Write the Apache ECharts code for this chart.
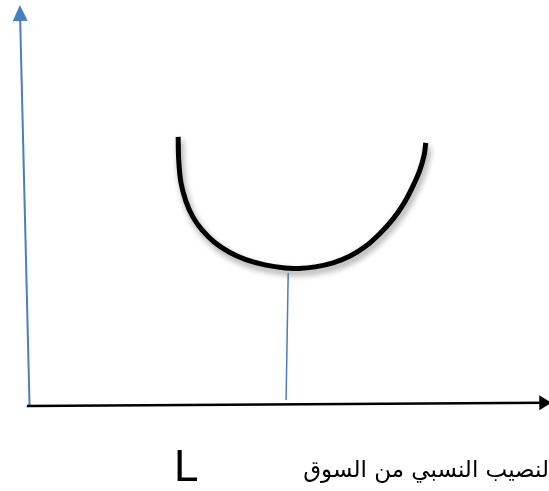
<!DOCTYPE html>
<html>
<head>
<meta charset="utf-8">
<script src="https://cdn.jsdelivr.net/npm/echarts@6/dist/echarts.min.js"></script>
<style>
  html, body { margin: 0; padding: 0; background: #ffffff; }
  #chart { width: 549px; height: 491px; }
</style>
</head>
<body>
<div id="chart"></div>
<script>
// U-shaped cost curve against relative market share (conceptual units 0..100)
const curveX = [29.9, 30.0, 30.4, 31.4, 32.7, 34.4, 36.7, 39.5, 42.7, 46.3, 50.1, 52.6,
                55.8, 59.2, 62.4, 65.4, 68.1, 70.5, 72.6, 74.3, 75.6, 76.4, 76.7];
const curveY = [67.1, 61.4, 55.9, 50.9, 47.1, 43.9, 40.9, 38.4, 36.5, 35.2, 34.4, 34.3,
                34.7, 35.7, 37.4, 39.9, 43.1, 46.6, 50.6, 54.9, 58.9, 62.6, 65.6];

// Vertical axis (drawn by hand, leaning slightly) and horizontal axis
const verticalAxisFrom = [1.8, 0.25];
const verticalAxisTo = [0, 98];
const horizontalAxisFrom = [1.3, 0];
const horizontalAxisTo = [99.3, 0.8];

// Drop line from the bottom of the curve to the horizontal axis
const dropFrom = [50.7, 33.2];
const dropTo = [50.3, 1.5];

const minLabel = 'L';
const axisTitle = 'لنصيب النسبي من السوق';

const curveData = curveX.map((x, i) => [x, curveY[i]]);

// Build one smooth path (Catmull-Rom through the points, as cubic Béziers)
function smoothPath(pts) {
  let d = 'M' + pts[0][0] + ',' + pts[0][1];
  for (let i = 0; i < pts.length - 1; i++) {
    const p0 = pts[i - 1] || pts[i];
    const p1 = pts[i];
    const p2 = pts[i + 1];
    const p3 = pts[i + 2] || p2;
    const c1x = p1[0] + (p2[0] - p0[0]) / 6;
    const c1y = p1[1] + (p2[1] - p0[1]) / 6;
    const c2x = p2[0] - (p3[0] - p1[0]) / 6;
    const c2y = p2[1] - (p3[1] - p1[1]) / 6;
    d += ' C' + c1x + ',' + c1y + ' ' + c2x + ',' + c2y + ' ' + p2[0] + ',' + p2[1];
  }
  return d;
}

const chart = echarts.init(document.getElementById('chart'), null, { renderer: 'canvas' });

chart.setOption({
  backgroundColor: '#ffffff',
  animation: false,
  grid: { left: 20, right: 0, top: 5, bottom: 85 },
  xAxis: { type: 'value', min: 0, max: 100, show: false },
  yAxis: { type: 'value', min: 0, max: 100, show: false },
  series: [
    {
      type: 'custom',
      coordinateSystem: 'cartesian2d',
      data: curveData,
      silent: true,
      z: 3,
      renderItem: function (params, api) {
        if (params.dataIndex !== 0) return null;
        const pts = curveData.map(function (p) { return api.coord(p); });
        return {
          type: 'path',
          shape: { pathData: smoothPath(pts) },
          style: {
            fill: null,
            stroke: '#000000',
            lineWidth: 5,
            lineCap: 'butt',
            lineJoin: 'round',
            shadowColor: 'rgba(0,0,0,0.4)',
            shadowBlur: 6,
            shadowOffsetX: 2,
            shadowOffsetY: 4
          }
        };
      }
    },
    {
      type: 'line',
      data: [],
      silent: true,
      markLine: {
        silent: true,
        animation: false,
        label: { show: false },
        emphasis: { disabled: true },
        data: [
          [
            { coord: verticalAxisFrom, symbol: 'none', lineStyle: { color: '#4a7ebf', width: 2, type: 'solid' } },
            { coord: verticalAxisTo, symbol: 'triangle', symbolSize: [15, 16] }
          ],
          [
            { coord: horizontalAxisFrom, symbol: 'none', lineStyle: { color: '#000000', width: 2.5, type: 'solid' } },
            { coord: horizontalAxisTo, symbol: 'triangle', symbolSize: [15, 12] }
          ],
          [
            { coord: dropFrom, symbol: 'none', lineStyle: { color: '#4a7ebf', width: 1.5, type: 'solid' } },
            { coord: dropTo, symbol: 'none' }
          ]
        ]
      }
    }
  ],
  graphic: [
    {
      type: 'text',
      left: 174,
      top: 447,
      style: {
        text: minLabel,
        fontSize: 44,
        fontFamily: 'Arial, "Liberation Sans", sans-serif',
        fill: '#000000'
      }
    },
    {
      type: 'text',
      right: 0,
      top: 460,
      style: {
        text: axisTitle,
        fontSize: 23,
        fontFamily: 'DejaVu Sans',
        fill: '#000000'
      }
    }
  ]
});
</script>
</body>
</html>
